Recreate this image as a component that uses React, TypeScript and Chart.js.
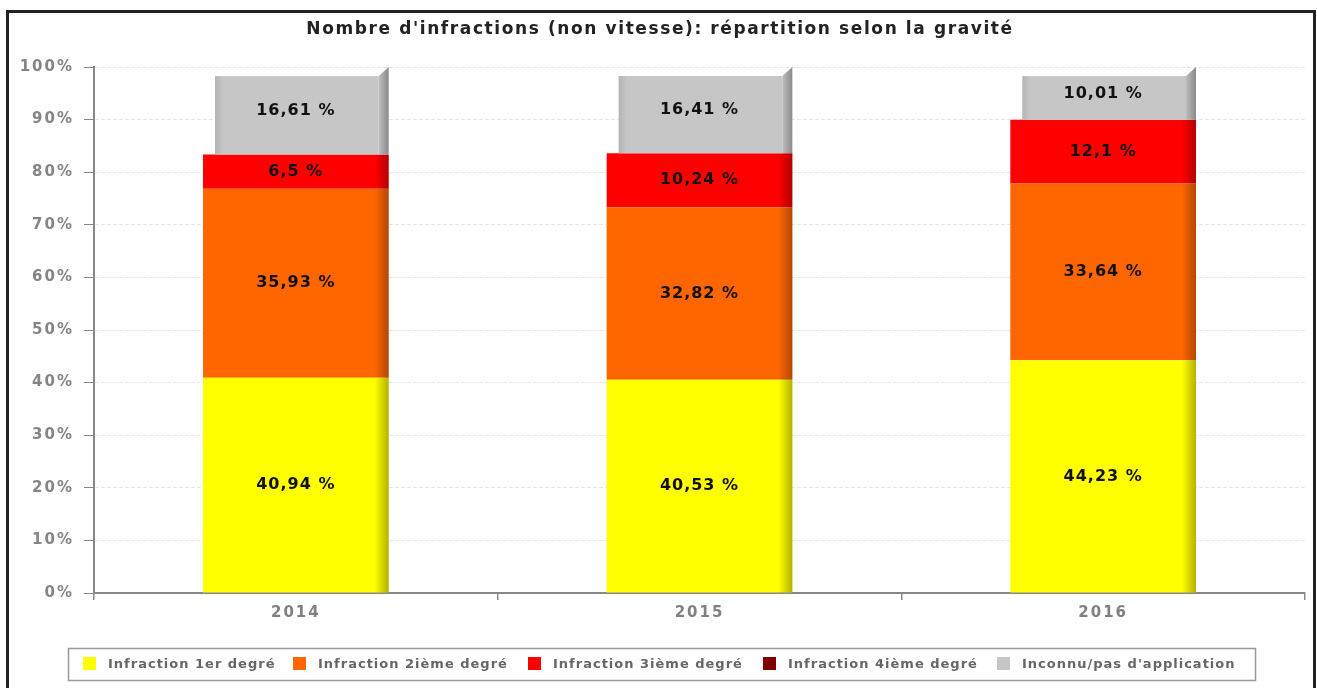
import { useEffect, useRef } from 'react';
import { Chart, registerables } from 'chart.js';

Chart.register(...registerables);

const chartTitle = "Nombre d'infractions (non vitesse): répartition selon la gravité";
const categories = ['2014', '2015', '2016'];
const firstDegree = [40.94, 40.53, 44.23];
const secondDegree = [35.93, 32.82, 33.64];
const thirdDegree = [6.5, 10.24, 12.1];
const fourthDegree = [0, 0, 0];
const unknownApp = [16.61, 16.41, 10.01];
const seriesNames = [
  'Infraction 1er degré',
  'Infraction 2ième degré',
  'Infraction 3ième degré',
  'Infraction 4ième degré',
  'Inconnu/pas d\'application',
];
const seriesColors = ['#ffff00', '#ff6600', '#ff0000', '#800000', '#c6c6c6'];
const yMin = 0;
const yMax = 100;
const yStep = 10;

const FONT = '"DejaVu Sans", Verdana, sans-serif';

const fmt = (v: number) => String(v).replace('.', ',') + ' %';

const decoPlugin = {
  id: 'deco',
  beforeUpdate(chart: any) {
    chart.ctx.letterSpacing = '2px';
  },
  beforeDraw(chart: any) {
    const ctx = chart.ctx;
    ctx.letterSpacing = '2px';
    ctx.save();
    // outer frame
    ctx.strokeStyle = '#222';
    ctx.lineWidth = 3;
    ctx.strokeRect(7.5, 11.5, 1307, 700);
    // title
    ctx.letterSpacing = '1.6px';
    ctx.fillStyle = '#222';
    ctx.font = `bold 17px ${FONT}`;
    ctx.textAlign = 'center';
    ctx.textBaseline = 'middle';
    ctx.fillText(chartTitle, 660, 30);
    ctx.restore();
  },
  afterDatasetsDraw(chart: any) {
    const ctx = chart.ctx;
    const n = chart.data.datasets.length;
    ctx.save();
    for (let d = 0; d < n; d++) {
      const meta = chart.getDatasetMeta(d);
      const ds = chart.data.datasets[d];
      meta.data.forEach((bar: any, i: number) => {
        const v = ds.data[i] as number;
        if (!v) return;
        const left = bar.x - bar.width / 2;
        const right = bar.x + bar.width / 2;
        const top = Math.min(bar.y, bar.base);
        const base = Math.max(bar.y, bar.base);
        if (d === n - 1) {
          // 3D style gray block
          const face = ctx.createLinearGradient(left + 12, 0, left + 20, 0);
          face.addColorStop(0, '#b4b4b4');
          face.addColorStop(1, seriesColors[d]);
          ctx.fillStyle = face;
          ctx.fillRect(left + 12, top + 9, right - 10 - (left + 12), base - top - 9);
          const side = ctx.createLinearGradient(right - 10, 0, right, 0);
          side.addColorStop(0, '#bdbdbd');
          side.addColorStop(1, '#8a8a8a');
          ctx.fillStyle = side;
          ctx.beginPath();
          ctx.moveTo(right - 10, top + 9);
          ctx.lineTo(right, top);
          ctx.lineTo(right, base);
          ctx.lineTo(right - 10, base);
          ctx.closePath();
          ctx.fill();
        } else {
          const g = ctx.createLinearGradient(right - 14, 0, right, 0);
          g.addColorStop(0, 'rgba(0,0,0,0)');
          g.addColorStop(1, 'rgba(0,0,0,0.3)');
          ctx.fillStyle = g;
          ctx.fillRect(right - 14, top, 14, base - top);
        }
      });
    }
    // value labels
    ctx.letterSpacing = '1px';
    ctx.font = `bold 16px ${FONT}`;
    ctx.fillStyle = '#111';
    ctx.textAlign = 'center';
    ctx.textBaseline = 'middle';
    for (let d = 0; d < n; d++) {
      const meta = chart.getDatasetMeta(d);
      const ds = chart.data.datasets[d];
      meta.data.forEach((bar: any, i: number) => {
        const v = ds.data[i] as number;
        if (!v) return;
        ctx.fillText(fmt(v), bar.x, (bar.y + bar.base) / 2);
      });
    }
    ctx.restore();
  },
  afterDraw(chart: any) {
    const ctx = chart.ctx;
    ctx.save();
    ctx.letterSpacing = '1px';
    ctx.font = `bold 13px ${FONT}`;
    ctx.textBaseline = 'middle';
    ctx.textAlign = 'left';
    // legend
    const boxL = 68, boxT = 648, boxB = 680, boxR = 1255;
    const itemX = [83, 293, 528, 763, 997];
    const cy = (boxT + boxB) / 2;
    seriesNames.forEach((name, i) => {
      const x = itemX[i];
      ctx.fillStyle = seriesColors[i];
      ctx.fillRect(x, cy - 7, 13, 13);
      ctx.fillStyle = '#666';
      ctx.fillText(name, x + 25, cy + 1);
    });
    ctx.strokeStyle = '#999';
    ctx.lineWidth = 1.5;
    ctx.strokeRect(boxL + 0.5, boxT + 0.5, boxR - boxL, boxB - boxT);
    ctx.restore();
  },
};

export default function App() {
  const ref = useRef<HTMLCanvasElement>(null);
  useEffect(() => {
    const seriesValues = [firstDegree, secondDegree, thirdDegree, fourthDegree, unknownApp];
    const chart = new Chart(ref.current as HTMLCanvasElement, {
      type: 'bar',
      data: {
        labels: categories,
        datasets: seriesValues.map((vals, i) => ({
          label: seriesNames[i],
          data: vals,
          backgroundColor: i === seriesValues.length - 1 ? 'rgba(0,0,0,0)' : seriesColors[i],
          borderWidth: 0,
          categoryPercentage: 0.46,
          barPercentage: 1,
        })),
      },
      options: {
        responsive: false,
        animation: false,
        events: [],
        layout: { padding: { top: 67, right: 12, bottom: 60, left: 0 } },
        plugins: {
          legend: { display: false },
          title: { display: false },
          tooltip: { enabled: false },
        },
        scales: {
          x: {
            stacked: true,
            offset: true,
            grid: { drawOnChartArea: false, tickColor: '#888', tickLength: 7, offset: true, lineWidth: 1.5 },
            border: { color: '#888', width: 2 },
            ticks: { color: '#808080', font: { family: FONT, size: 15, weight: 'bold' }, padding: 4 },
            afterFit(s: any) { s.height = 35; },
          },
          y: {
            stacked: true,
            min: yMin,
            max: yMax,
            ticks: {
              stepSize: yStep,
              color: '#858585',
              font: { family: FONT, size: 15, weight: 'bold' },
              padding: 10,
              callback: (v: any) => v + '%',
            },
            grid: { color: '#e6e6e6', tickColor: '#888', tickLength: 10, lineWidth: 1 },
            border: { color: '#888', width: 2, dash: [4, 2] },
            afterFit(s: any) { s.width = 94; },
          },
        },
      },
      plugins: [decoPlugin],
    } as any);
    return () => chart.destroy();
  }, []);
  return (
    <canvas
      ref={ref}
      width={1317}
      height={688}
      style={{ position: 'fixed', left: 0, top: 0, width: 1317, height: 688, background: '#fff' }}
    />
  );
}
